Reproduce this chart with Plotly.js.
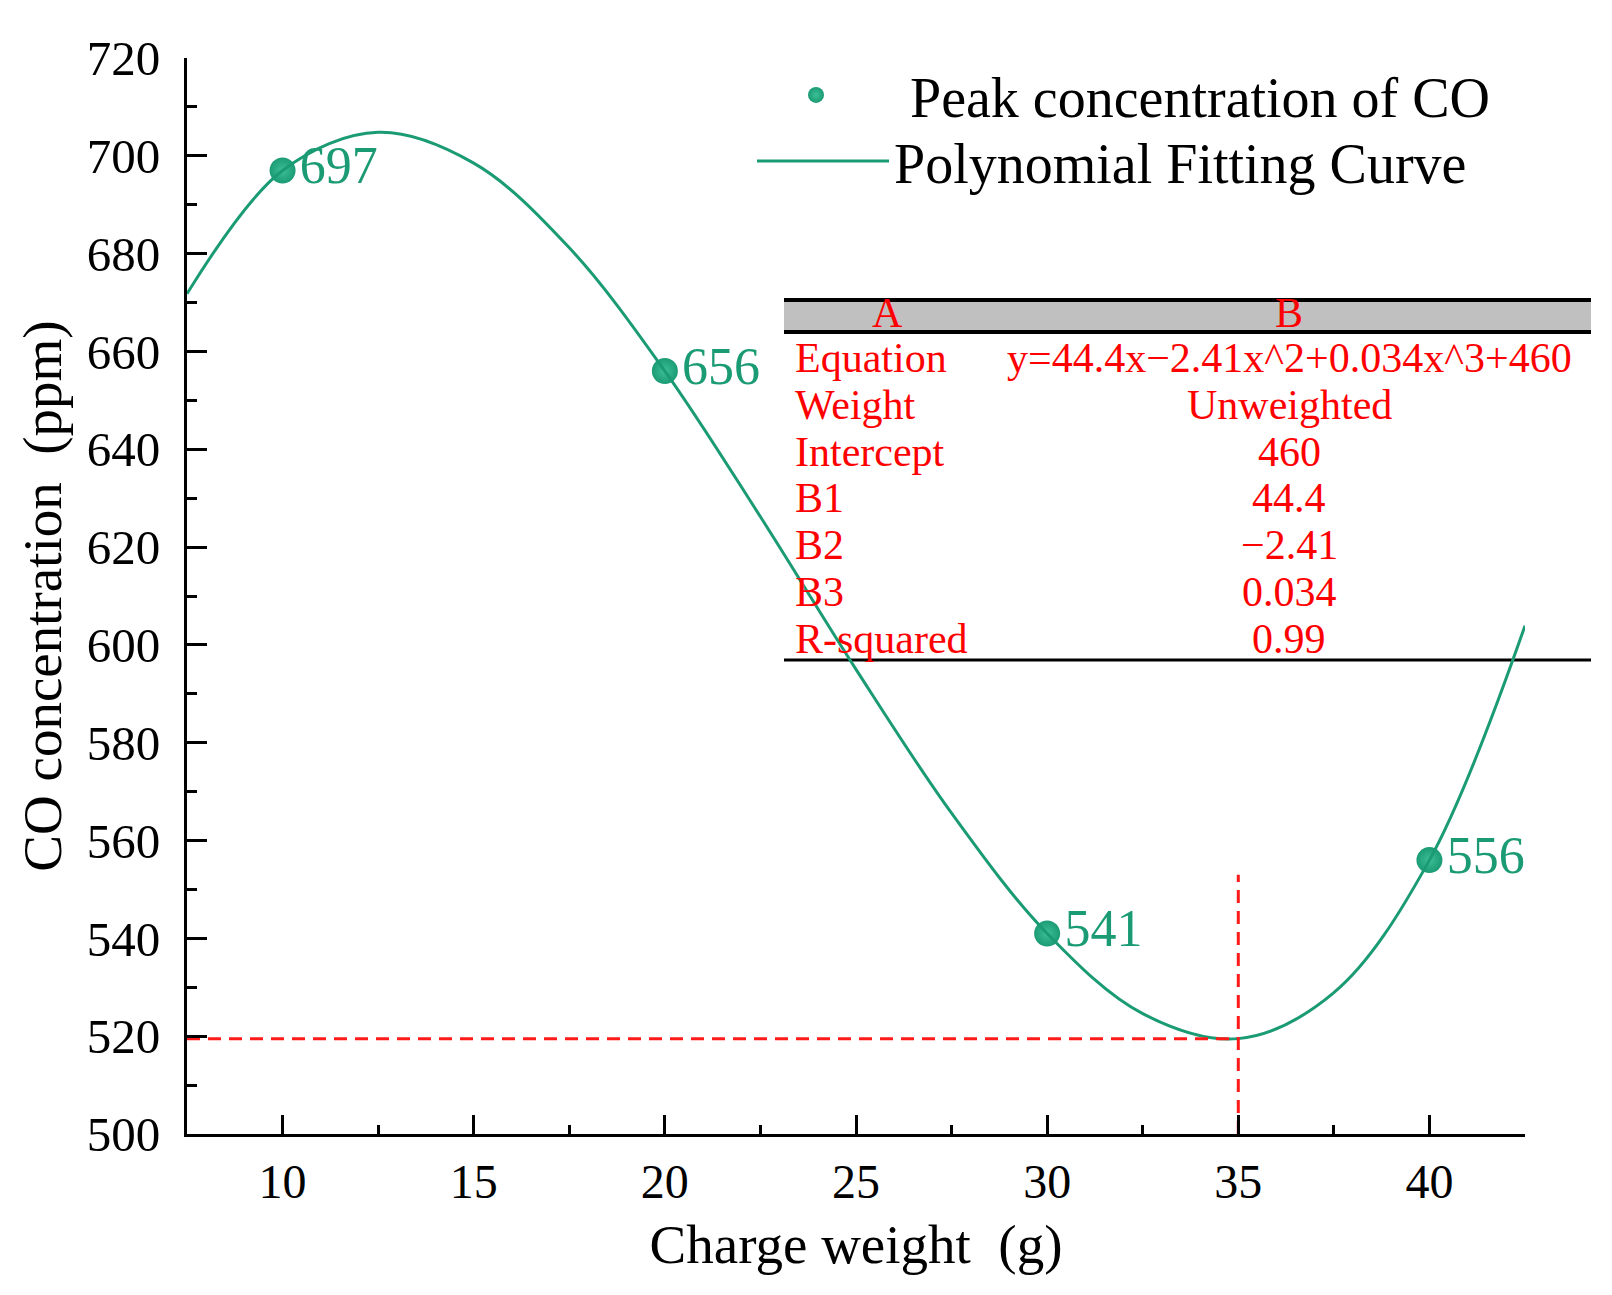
<!DOCTYPE html>
<html>
<head>
<meta charset="utf-8">
<script src="https://cdn.plot.ly/plotly-3.0.1.min.js"></script>
<style>html,body{margin:0;padding:0;background:#fff;}#chart{width:1612px;height:1295px;}</style>
</head>
<body>
<div id="chart"></div>
<script>
// Measured points
var chargeWeight = [10, 20, 30, 40];
var peakCO = [697, 656, 541, 556];
var peakLabels = ['697', '656', '541', '556'];

// Fitting curve
var fitX = [7.5, 10, 12.5, 15, 17.5, 20, 22.5, 25, 27.5, 30, 32.5, 35, 37.5, 40, 42.5];
var fitY = [671.8, 697, 704.8, 698.5, 681.2, 656, 626.2, 595, 565.6, 541, 524.6, 519.5, 528.9, 556, 603.9];

// Minimum guide lines
var minHX = [7.5, 35];
var minHY = [519.5, 519.5];
var minVX = [35, 35];
var minVY = [500, 553];

// Fit table
var tableHeader = ['A', 'B'];
var tableNames = ['Equation', 'Weight', 'Intercept', 'B1', 'B2', 'B3', 'R-squared'];
var tableValues = ['y=44.4x\u22122.41x^2+0.034x^3+460', 'Unweighted', '460', '44.4', '\u22122.41', '0.034', '0.99'];

var GREEN = '#1b9b74';
var FONT = '"Liberation Serif", "Times New Roman", serif';

// pixel helpers for the plot frame (plot area 187..1525 x 58..1134)
var L = 187, R = 1525, T = 58, B = 1134;
function px(x) { return (x - L) / (R - L); }
function py(y) { return (B - y) / (B - T); }

var traces = [
  {
    x: chargeWeight, y: peakCO, type: 'scatter', mode: 'markers+text',
    name: 'Peak concentration of CO', legend: 'legend',
    text: peakLabels, textposition: 'middle right',
    textfont: {family: FONT, size: 52, color: GREEN},
    marker: {size: 26, color: GREEN, gradient: {type: 'radial', color: '#3cc095'}},
    cliponaxis: false
  },
  {
    x: fitX, y: fitY, type: 'scatter', mode: 'lines',
    name: 'Polynomial Fitting Curve', legend: 'legend2',
    line: {color: GREEN, width: 3, shape: 'spline'},
    cliponaxis: false
  },
  {
    x: minHX, y: minHY, type: 'scatter', mode: 'lines', showlegend: false, hoverinfo: 'skip',
    line: {color: '#ff1a1a', width: 3, dash: '13px,8px'}
  },
  {
    x: minVX, y: minVY, type: 'scatter', mode: 'lines', showlegend: false, hoverinfo: 'skip',
    line: {color: '#ff1a1a', width: 3, dash: '13px,8px'}
  }
];

var shapes = [
  {type: 'rect', xref: 'paper', yref: 'paper', x0: px(784), x1: px(1591), y0: py(331), y1: py(301),
   fillcolor: '#c0c0c0', line: {width: 0}, layer: 'below'},
  {type: 'line', xref: 'paper', yref: 'paper', x0: px(784), x1: px(1591), y0: py(300), y1: py(300),
   line: {color: '#000', width: 4}, layer: 'below'},
  {type: 'line', xref: 'paper', yref: 'paper', x0: px(784), x1: px(1591), y0: py(332), y1: py(332),
   line: {color: '#000', width: 4}, layer: 'below'},
  {type: 'line', xref: 'paper', yref: 'paper', x0: px(784), x1: px(1591), y0: py(660), y1: py(660),
   line: {color: '#000', width: 3}, layer: 'below'}
];

var annotations = [];
var tf = {family: FONT, size: 42, color: '#ff0000'};
annotations.push({xref: 'paper', yref: 'paper', x: px(887), y: py(313), text: tableHeader[0],
  showarrow: false, xanchor: 'center', yanchor: 'middle', font: tf});
annotations.push({xref: 'paper', yref: 'paper', x: px(1289), y: py(313), text: tableHeader[1],
  showarrow: false, xanchor: 'center', yanchor: 'middle', font: tf});
for (var i = 0; i < tableNames.length; i++) {
  var yc = 358 + 46.8 * i;
  annotations.push({xref: 'paper', yref: 'paper', x: px(793), y: py(yc), text: tableNames[i],
    showarrow: false, xanchor: 'left', yanchor: 'middle', font: tf});
  annotations.push({xref: 'paper', yref: 'paper', x: px(1289), y: py(yc), text: tableValues[i],
    showarrow: false, xanchor: 'center', yanchor: 'middle', font: tf});
}

var legendBase = {
  xanchor: 'left', yanchor: 'top',
  font: {family: FONT, size: 56, color: '#000'},
  bgcolor: 'rgba(0,0,0,0)', borderwidth: 0
};

var layout = {
  width: 1612, height: 1295,
  margin: {l: L, r: 1612 - R, t: T, b: 1295 - B},
  paper_bgcolor: '#fff', plot_bgcolor: '#fff',
  font: {family: FONT, color: '#000'},
  showlegend: true,
  legend: Object.assign({}, legendBase, {x: px(722), y: py(52), itemwidth: 178}),
  legend2: Object.assign({}, legendBase, {x: px(752), y: py(118), itemwidth: 132}),
  xaxis: {
    range: [7.5, 42.5], tick0: 0, dtick: 5,
    showgrid: false, zeroline: false,
    showline: true, linecolor: '#000', linewidth: 3,
    ticks: 'inside', ticklen: 19, tickwidth: 3, tickcolor: '#000',
    minor: {dtick: 2.5, ticks: 'inside', ticklen: 9, tickwidth: 3, tickcolor: '#000', showgrid: false},
    tickfont: {family: FONT, size: 48, color: '#000'},
    ticklabelstandoff: 3,
    title: {text: 'Charge weight \u00a0(g)', font: {family: FONT, size: 55, color: '#000'}, standoff: 18}
  },
  yaxis: {
    range: [500, 720], tick0: 0, dtick: 20,
    showgrid: false, zeroline: false,
    showline: true, linecolor: '#000', linewidth: 3,
    ticks: 'inside', ticklen: 20, tickwidth: 3, tickcolor: '#000',
    minor: {dtick: 10, ticks: 'inside', ticklen: 10, tickwidth: 3, tickcolor: '#000', showgrid: false},
    tickfont: {family: FONT, size: 49, color: '#000'},
    ticklabelstandoff: 14,
    title: {text: 'CO concentration \u00a0(ppm)', font: {family: FONT, size: 55, color: '#000'}, standoff: 8}
  },
  shapes: shapes,
  annotations: annotations
};

Plotly.newPlot('chart', traces, layout, {displayModeBar: false, responsive: false});
</script>
</body>
</html>
